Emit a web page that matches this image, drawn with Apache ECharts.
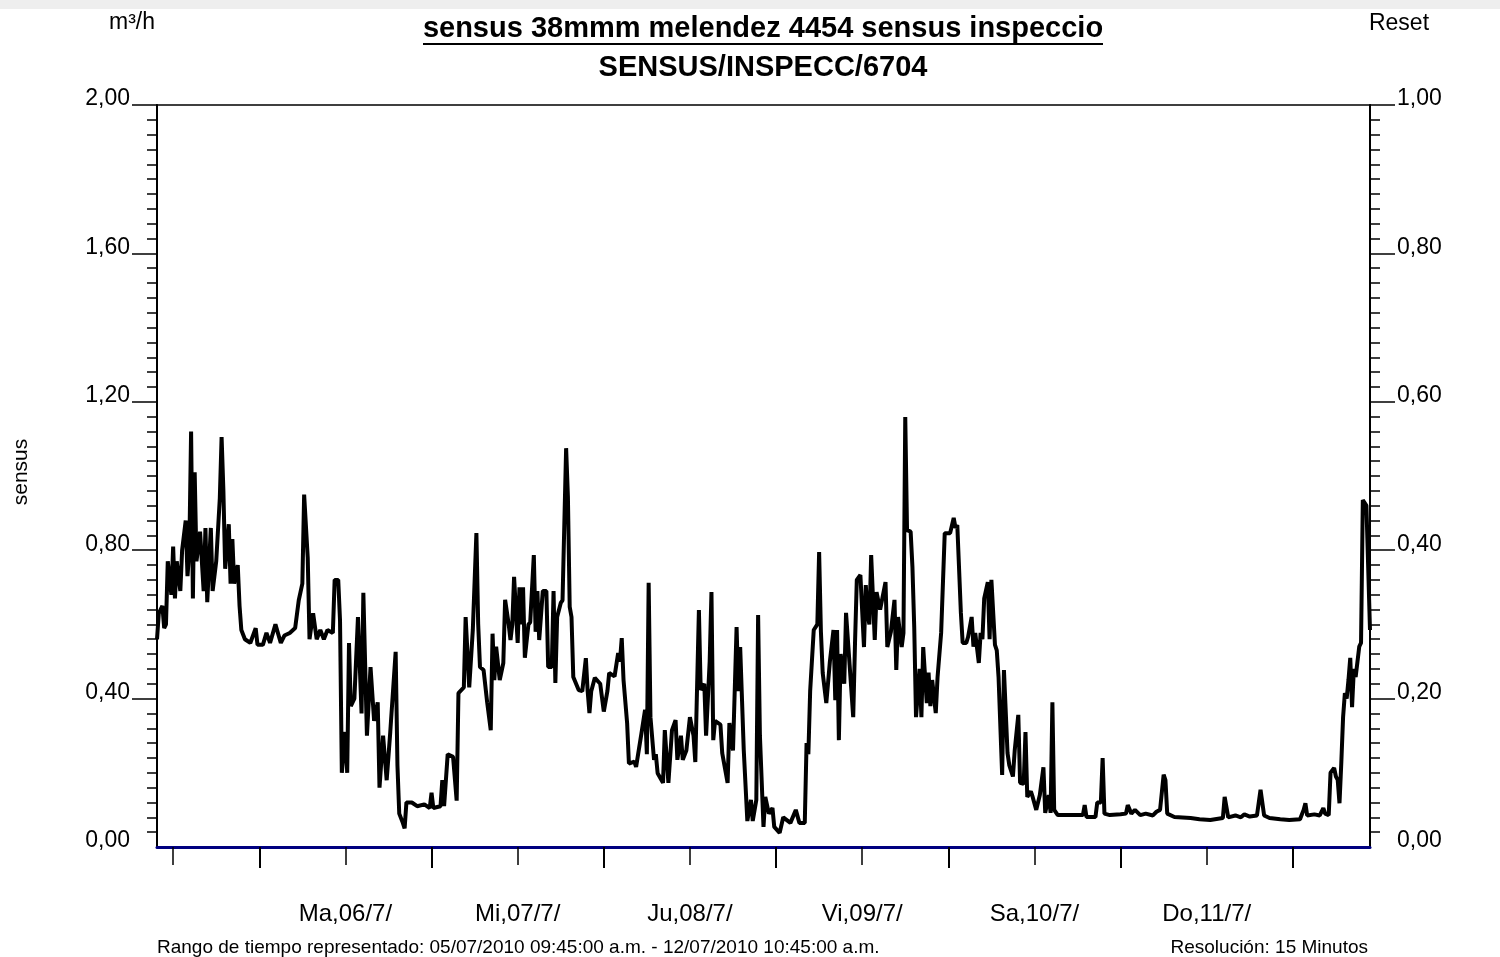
<!DOCTYPE html>
<html><head><meta charset="utf-8">
<script src="https://cdn.jsdelivr.net/npm/echarts@6/dist/echarts.min.js"></script>
<style>html,body{margin:0;padding:0;background:#fff}#c{width:1500px;height:957px}</style>
</head><body><div id="c"></div>
<script>
const titleText = 'sensus 38mmm melendez 4454 sensus inspeccio';
const subtitleText = 'SENSUS/INSPECC/6704';
const leftUnit = 'm³/h';
const rightUnit = 'Reset';
const yName = 'sensus';
const rangeText = 'Rango de tiempo representado: 05/07/2010 09:45:00 a.m. - 12/07/2010 10:45:00 a.m.';
const resolutionText = 'Resolución: 15 Minutos';
// x axis in hours since 05/07/2010 09:45
const dayLabels = ['Ma,06/7/','Mi,07/7/','Ju,08/7/','Vi,09/7/','Sa,10/7/','Do,11/7/'];
const dayLabelHours = [26.25,50.25,74.25,98.25,122.25,146.25];
const midnightHours = [14.25,38.25,62.25,86.25,110.25,134.25,158.25];
const noonHours = [2.25,26.25,50.25,74.25,98.25,122.25,146.25];
const leftMajorTicks = [0.4,0.8,1.2,1.6,2.0];
const rightMajorTicks = [0.2,0.4,0.6,0.8,1.0];
// [hour, m3/h]
const flowPoints = [[0,0.56],[0.25,0.63],[0.75,0.65],[1,0.59],[1.25,0.60],[1.5,0.77],[2,0.68],[2.25,0.81],[2.5,0.67],[2.75,0.77],[3.25,0.69],[3.5,0.80],[4,0.88],[4.25,0.73],[4.5,0.80],[4.75,1.12],[5,0.67],[5.25,1.01],[5.5,0.77],[6,0.85],[6.5,0.69],[6.75,0.86],[7,0.66],[7.5,0.86],[7.75,0.69],[8.25,0.77],[8.75,0.94],[9,1.105],[9.25,0.96],[9.5,0.75],[10,0.87],[10.25,0.71],[10.5,0.83],[10.75,0.71],[11.25,0.76],[11.5,0.65],[11.75,0.585],[12.25,0.56],[13,0.55],[13.75,0.59],[14,0.545],[14.75,0.545],[15.25,0.577],[15.75,0.55],[16.5,0.60],[17.25,0.55],[17.75,0.57],[18.5,0.577],[19.25,0.59],[19.75,0.665],[20.25,0.71],[20.5,0.95],[21,0.78],[21.25,0.56],[21.75,0.63],[22.25,0.56],[22.75,0.585],[23.25,0.56],[23.75,0.585],[24.5,0.577],[24.75,0.72],[25.25,0.72],[25.5,0.61],[25.75,0.20],[26.25,0.31],[26.5,0.20],[26.75,0.55],[27,0.38],[27.5,0.40],[28,0.62],[28.5,0.36],[28.75,0.685],[29.25,0.30],[29.75,0.485],[30.25,0.34],[30.75,0.39],[31,0.16],[31.5,0.30],[32,0.18],[32.5,0.31],[33.25,0.526],[33.5,0.22],[33.75,0.09],[34.25,0.065],[34.5,0.05],[34.75,0.12],[35.5,0.12],[36.25,0.11],[37.25,0.115],[38,0.105],[38.25,0.146],[38.5,0.105],[39.5,0.11],[39.75,0.18],[40,0.11],[40.5,0.25],[41.25,0.243],[41.75,0.125],[42,0.415],[42.75,0.43],[43,0.62],[43.5,0.43],[44,0.585],[44.5,0.846],[44.75,0.60],[45,0.485],[45.5,0.477],[46,0.39],[46.5,0.315],[46.75,0.575],[47,0.45],[47.25,0.54],[47.75,0.45],[48.25,0.496],[48.5,0.666],[49,0.60],[49.25,0.558],[49.5,0.60],[49.75,0.728],[50.25,0.55],[50.5,0.70],[50.75,0.60],[51,0.70],[51.25,0.51],[51.75,0.60],[52,0.606],[52.5,0.787],[52.75,0.58],[53,0.69],[53.25,0.558],[53.75,0.69],[54.25,0.69],[54.5,0.485],[55,0.485],[55.25,0.69],[55.5,0.442],[55.75,0.62],[56.25,0.658],[56.5,0.665],[57,1.075],[57.25,0.943],[57.5,0.647],[57.75,0.62],[58,0.458],[58.75,0.423],[59.25,0.42],[59.75,0.509],[60,0.42],[60.25,0.361],[60.5,0.42],[61,0.456],[61.75,0.44],[62.25,0.365],[62.75,0.42],[63,0.469],[63.75,0.46],[64.25,0.523],[64.5,0.50],[64.75,0.563],[65,0.45],[65.5,0.334],[65.75,0.225],[66.5,0.23],[66.75,0.216],[67.5,0.307],[68,0.37],[68.25,0.25],[68.5,0.712],[68.75,0.35],[69.25,0.235],[69.5,0.25],[69.75,0.199],[70.5,0.173],[70.75,0.315],[71.25,0.173],[71.75,0.315],[72.25,0.342],[72.5,0.235],[73,0.30],[73.25,0.235],[73.75,0.26],[74.25,0.35],[74.75,0.30],[75,0.229],[75.5,0.639],[75.75,0.423],[76.25,0.44],[76.5,0.30],[77,0.50],[77.25,0.687],[77.5,0.288],[77.75,0.34],[78.5,0.33],[78.75,0.253],[79.5,0.173],[79.75,0.334],[80.25,0.26],[80.75,0.593],[81,0.42],[81.25,0.539],[81.75,0.261],[82.25,0.07],[82.75,0.127],[83,0.07],[83.5,0.127],[83.75,0.625],[84,0.30],[84.5,0.054],[84.75,0.135],[85.25,0.09],[85.75,0.105],[86,0.054],[86.75,0.038],[87.25,0.08],[88.25,0.065],[89,0.10],[89.25,0.095],[89.5,0.065],[90.25,0.065],[90.5,0.28],[90.75,0.25],[91,0.42],[91.25,0.42],[91.5,0.585],[92,0.60],[92.25,0.795],[92.5,0.58],[92.75,0.469],[93.25,0.388],[93.75,0.50],[94.25,0.585],[94.5,0.396],[94.75,0.585],[95,0.288],[95.25,0.52],[95.75,0.44],[96,0.631],[96.5,0.49],[97,0.35],[97.25,0.55],[97.5,0.72],[98,0.733],[98.5,0.539],[98.75,0.706],[99,0.63],[99.25,0.60],[99.5,0.787],[100,0.558],[100.25,0.687],[100.75,0.64],[101.5,0.714],[101.75,0.539],[102.25,0.58],[102.75,0.666],[103,0.477],[103.25,0.62],[103.75,0.539],[104,0.577],[104.25,1.159],[104.5,0.854],[105,0.85],[105.25,0.755],[105.5,0.593],[105.75,0.35],[106.25,0.48],[106.5,0.35],[106.75,0.539],[107.25,0.388],[107.5,0.47],[107.75,0.38],[108,0.45],[108.5,0.361],[108.75,0.458],[109.25,0.577],[109.75,0.846],[110.5,0.846],[111,0.887],[111.25,0.86],[111.5,0.868],[112,0.631],[112.25,0.55],[112.75,0.55],[113,0.566],[113.5,0.62],[113.75,0.54],[114,0.577],[114.5,0.496],[114.75,0.577],[115,0.56],[115.25,0.67],[115.75,0.714],[116,0.56],[116.25,0.72],[116.5,0.72],[116.75,0.545],[117,0.53],[117.25,0.458],[117.75,0.194],[118,0.477],[118.5,0.253],[118.75,0.22],[119.25,0.19],[119.5,0.26],[120,0.356],[120.25,0.173],[120.75,0.17],[121,0.31],[121.25,0.135],[121.75,0.15],[122,0.135],[122.25,0.14],[122.5,0.10],[123,0.14],[123.5,0.215],[123.75,0.092],[124.25,0.14],[124.5,0.092],[124.75,0.39],[125,0.10],[125.5,0.086],[129,0.086],[129.25,0.113],[129.5,0.081],[130.75,0.081],[131,0.12],[131.5,0.12],[131.75,0.24],[132,0.09],[132.75,0.086],[134.25,0.088],[135,0.09],[135.25,0.113],[135.75,0.09],[136.25,0.10],[137,0.086],[137.75,0.09],[138.75,0.085],[139.25,0.095],[139.75,0.10],[140.25,0.195],[140.5,0.18],[140.75,0.09],[141.75,0.081],[144,0.078],[145.25,0.075],[146.75,0.073],[148.5,0.078],[148.75,0.135],[149.25,0.08],[150.25,0.085],[151,0.08],[151.5,0.088],[152.25,0.082],[153.25,0.085],[153.75,0.154],[154,0.15],[154.25,0.085],[155,0.078],[156.5,0.075],[157.75,0.073],[159.25,0.075],[159.75,0.10],[160,0.118],[160.25,0.085],[161.25,0.088],[162,0.085],[162.5,0.105],[162.75,0.09],[163.25,0.086],[163.5,0.20],[164,0.213],[164.25,0.19],[164.5,0.181],[164.75,0.118],[165,0.226],[165.25,0.35],[165.5,0.415],[165.75,0.40],[166,0.45],[166.25,0.51],[166.5,0.377],[166.75,0.48],[167,0.458],[167.25,0.46],[167.5,0.54],[167.75,0.55],[168,0.935],[168.5,0.92],[169,0.585]];

const FONT = 'Liberation Sans, Arial, sans-serif';
const fmt = v => v.toFixed(2).replace('.', ',');
const chart = echarts.init(document.getElementById('c'));
function yAxisCfg(min, max, interval, position, majors) {
  return {
    type: 'value', min: min, max: max, interval: interval, position: position,
    splitLine: {show: false},
    axisLine: {show: true, onZero: false, lineStyle: {color: '#000', width: 2}},
    axisTick: {show: true, customValues: majors, length: 25, lineStyle: {color: '#000', width: 1.5}},
    minorTick: {show: true, splitNumber: 10, length: 10, lineStyle: {color: '#000', width: 1.5}},
    axisLabel: {margin: 27, formatter: fmt, color: '#000', fontSize: 23, fontFamily: FONT, verticalAlign: 'bottom', lineHeight: 12}
  };
}
chart.setOption({
  animation: false,
  backgroundColor: '#ffffff',
  grid: {left: 157, right: 130, top: 105, bottom: 110, show: true, borderColor: '#000', borderWidth: 1.5, backgroundColor: '#fff'},
  xAxis: [
    {type: 'value', min: 0, max: 169, position: 'bottom',
     splitLine: {show: false},
     axisLine: {show: true, onZero: false, lineStyle: {color: '#000080', width: 3}},
     axisTick: {show: true, customValues: midnightHours, length: 21, lineStyle: {color: '#000', width: 2}},
     axisLabel: {show: false}},
    {type: 'value', min: 0, max: 169, position: 'bottom',
     splitLine: {show: false},
     axisLine: {show: false, onZero: false},
     axisTick: {show: true, customValues: noonHours, length: 18, lineStyle: {color: '#000', width: 1.5}},
     axisLabel: {show: true, customValues: dayLabelHours, margin: 55, color: '#000', fontSize: 24, fontFamily: FONT,
       formatter: v => { const i = dayLabelHours.indexOf(v); return i >= 0 ? dayLabels[i] : ''; }}}
  ],
  yAxis: [
    yAxisCfg(0, 2, 0.4, 'left', leftMajorTicks),
    yAxisCfg(0, 1, 0.2, 'right', rightMajorTicks)
  ],
  series: [{
    type: 'line', xAxisIndex: 0, yAxisIndex: 0, data: flowPoints,
    showSymbol: false, symbol: 'none',
    lineStyle: {color: '#000', width: 4, join: 'bevel'}
  }],
  graphic: [
    {type: 'rect', shape: {x: 0, y: 0, width: 1500, height: 9}, style: {fill: '#eeeeee'}, silent: true},
    {type: 'text', style: {text: titleText, x: 763, y: 29, align: 'center', verticalAlign: 'middle', font: 'bold 29px ' + FONT, fill: '#000'}},
    {type: 'line', shape: {x1: 423, y1: 44, x2: 1103, y2: 44}, style: {stroke: '#000', lineWidth: 2}},
    {type: 'text', style: {text: subtitleText, x: 763, y: 68, align: 'center', verticalAlign: 'middle', font: 'bold 29px ' + FONT, fill: '#000'}},
    {type: 'text', style: {text: leftUnit, x: 132, y: 23, align: 'center', verticalAlign: 'middle', font: '23px ' + FONT, fill: '#000'}},
    {type: 'text', style: {text: rightUnit, x: 1399, y: 24, align: 'center', verticalAlign: 'middle', font: '23px ' + FONT, fill: '#000'}},
    {type: 'text', x: 21, y: 472, rotation: Math.PI / 2, style: {text: yName, x: 0, y: 0, align: 'center', verticalAlign: 'middle', font: '21px ' + FONT, fill: '#000'}},
    {type: 'text', style: {text: rangeText, x: 157, y: 948, align: 'left', verticalAlign: 'middle', font: '19px ' + FONT, fill: '#000'}},
    {type: 'text', style: {text: resolutionText, x: 1368, y: 948, align: 'right', verticalAlign: 'middle', font: '19px ' + FONT, fill: '#000'}}
  ]
});
</script>
</body></html>
